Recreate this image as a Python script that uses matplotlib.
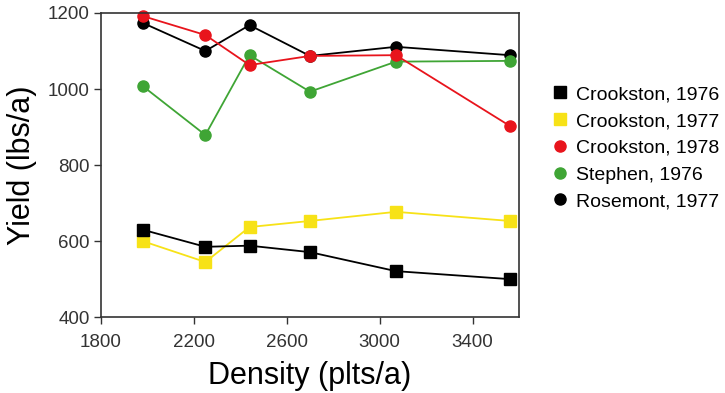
import matplotlib
matplotlib.use("Agg")
import matplotlib.pyplot as plt
from matplotlib.lines import Line2D

plt.rcParams["font.family"] = ["Liberation Sans", "DejaVu Sans"]

# 种植密度 (plts/a)
density = [1980, 2250, 2440, 2700, 3070, 3560]

crookston_1976 = [630, 585, 588, 571, 521, 500]
crookston_1977 = [600, 545, 637, 653, 677, 653]
crookston_1978 = [1192, 1142, 1063, 1087, 1089, 903]
stephen_1976 = [1008, 879, 1089, 993, 1072, 1074]
rosemont_1977 = [1174, 1100, 1168, 1087, 1111, 1089]

series = [
    ("Crookston, 1976", crookston_1976, "#000000", "s", 9),
    ("Crookston, 1977", crookston_1977, "#f7e217", "s", 9),
    ("Crookston, 1978", crookston_1978, "#e8141c", "o", 8),
    ("Stephen, 1976", stephen_1976, "#3fa535", "o", 8),
    ("Rosemont, 1977", rosemont_1977, "#000000", "o", 8),
]

fig = plt.figure(figsize=(7.25, 3.93), dpi=100)
ax = fig.add_axes([0.139, 0.193, 0.577, 0.774])

# 画线（倒序，让 Crookston 1976 在最上层）
for name, vals, col, mk, ms in series[::-1]:
    ax.plot(density, vals, color=col, marker=mk, markersize=ms,
            linewidth=1.3, label=name, clip_on=False)

ax.set_xlim(1800, 3600)
ax.set_ylim(400, 1200)
ax.set_xticks([1800, 2200, 2600, 3000, 3400])
ax.set_yticks([400, 600, 800, 1000, 1200])
ax.tick_params(direction="out", length=5, width=1, labelsize=13.5,
               labelcolor="#333333", color="#333333")
ax.tick_params(axis="x", pad=7)
ax.tick_params(axis="y", pad=3)
for s in ax.spines.values():
    s.set_linewidth(1.2)
    s.set_color("#333333")

ax.set_xlabel("Density (plts/a)", fontsize=22, labelpad=7)
ax.set_ylabel("Yield (lbs/a)", fontsize=22, labelpad=8)

# 图例只显示标记
leg_handles = [Line2D([], [], color=col, marker=mk, linestyle="none",
                      markersize=ms) for _, _, col, mk, ms in series]
fig.legend(leg_handles, [s[0] for s in series], loc="upper left",
           bbox_to_anchor=(0.759, 0.782), frameon=False, fontsize=14,
           handletextpad=0.32, labelspacing=0.47, handlelength=1.0,
           borderaxespad=0, borderpad=0)

fig.savefig("out.png", dpi=100)
